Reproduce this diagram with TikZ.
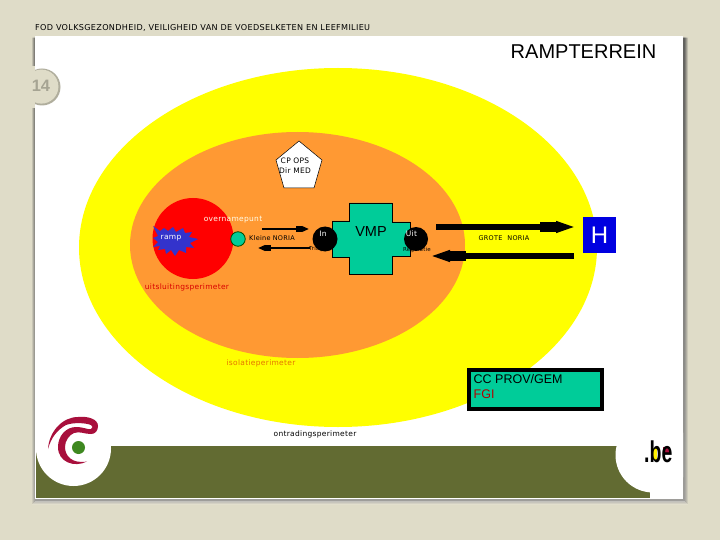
\documentclass[tikz,border=0pt]{standalone}
\usepackage{fontspec}
\setmainfont{Liberation Sans}
\newfontfamily\smallf[LetterSpace=4]{DejaVu Sans}
\usetikzlibrary{arrows.meta}
\definecolor{bgc}{HTML}{DFDCC8}
\definecolor{shade}{HTML}{9C9A8A}
\definecolor{olivec}{HTML}{626B32}
\definecolor{yel}{HTML}{FFFF00}
\definecolor{org}{HTML}{FF9933}
\definecolor{tealc}{HTML}{00CC99}
\definecolor{crim}{HTML}{A80F3C}
\definecolor{starblue}{HTML}{3333CC}
\tikzset{
  lab/.style={inner sep=0pt,font=\smallf\fontsize{7.5}{8}\selectfont},
  noria/.style={inner sep=0pt,font=\smallf\fontsize{6.5}{8}\selectfont},
  minilab/.style={inner sep=0pt,font=\smallf\fontsize{5.5}{6}\selectfont},
  thinarrow/.style={line width=2.6pt,-{Rectangle[length=6pt,width=5.5pt]Triangle[length=7pt,width=5.5pt]}},
  fatarrow/.style={line width=6pt,-{Rectangle[length=16pt,width=10.5pt]Triangle[length=20pt,width=10.5pt]}},
  blackdot/.style={circle,fill=black,inner sep=0pt},
}
\begin{document}
\begin{tikzpicture}[x=1pt,y=-1pt]
\useasboundingbox (0,0) rectangle (720,540);
\fill[bgc] (0,0) rectangle (720,540);
% shadow
\foreach \d/\o in {5/.10,4/.15,3/.2,2/.3}{
  \fill[shade,opacity=\o] (36-\d+1,38) rectangle (683+\d,499+\d);}
\fill[white] (35,36) rectangle (683,499);
% footer band
\begin{scope}
\clip (35,36) rectangle (683,499);
\fill[olivec] (36,446) rectangle (650,497.5);
\fill[white] (73.5,448.5) circle[radius=37.5];
\fill[white] (653,455) circle[radius=37.5];
\end{scope}
% page number tab
\fill[shade!70!bgc] (42,87) circle[radius=18.5];
\fill[bgc] (41.4,86.6) circle[radius=17];
\fill[bgc] (20,66) rectangle (35,108);
\node[inner sep=0pt,text=shade!85!bgc,font=\bfseries\fontsize{16.5}{18}\selectfont] (pageno) at (41,85.5) {14};
% perimeters
\fill[yel] (338,247.5) ellipse[x radius=259,y radius=179.5];
\fill[org] (297.5,245) ellipse[x radius=167.5,y radius=113];
\fill[red] (193,238.5) circle[radius=40.5];
% star
\fill[starblue] (153,226) -- (160,231) -- (164,228) -- (168,231) -- (173,227) -- (176,232) -- (183,228) -- (185,233) -- (192,232) -- (189,237) -- (198,239) -- (190,243) -- (194,248) -- (186,247) -- (186,253) -- (179,250) -- (175,256) -- (171,250) -- (166,254) -- (165,249) -- (158,250) -- (160,246) -- (153,247) -- (158,242) -- (153,238) -- (158,236) -- cycle;
\node[lab,text=white] (ramp) at (171,238) {ramp};
% pentagon
\draw[black,line width=.5pt,fill=white] (299,141) -- (322,160) -- (314,188) -- (284,188) -- (276,160) -- cycle;
\node[lab] (cpops) at (295,161) {CP OPS};
\node[lab] (dirmed) at (295,170.5) {Dir MED};
% overname
\node[lab,text=white!92!yellow] (overname) at (233,220) {overnamepunt};
\node[circle,draw=black!70!green,line width=.8pt,fill=tealc,minimum size=14.5pt,inner sep=0pt] (pt) at (238,239) {};
\node[noria] (kleine) at (272,238) {Kleine NORIA};
% VMP
\filldraw[fill=tealc,draw=black,line width=.6pt] (349,203) -- (392,203) -- (392,222) -- (410,222) -- (410,256) -- (392,256) -- (392,274) -- (349,274) -- (349,257) -- (332,257) -- (332,221) -- (349,221) -- cycle;
\node[inner sep=0pt,font=\fontsize{14.5}{16}\selectfont] (vmp) at (371,232) {VMP};
\node[blackdot,minimum size=25pt] (in) at (325,239) {};
\node[blackdot,minimum size=24pt] (uit) at (416,239) {};
\node[lab,text=white] (intxt) at (323,233.5) {In};
\node[lab,text=white] (uittxt) at (411.5,233.5) {Uit};
\node[minilab] (triage) at (318,249) {Triage};
\node[minilab] (regul) at (417,249.5) {Regulatie};
% H
\node[fill=blue!88!black,text=white,minimum width=33pt,minimum height=36pt,inner sep=0pt,font=\fontsize{24}{26}\selectfont] (H) at (599.5,235) {H};
\node[noria] (grote) at (504,238) {GROTE\hspace{5pt}NORIA};
% arrows
\coordinate (a1) at (262,229); \coordinate (a2) at (309,229);
\coordinate (b1) at (310,248); \coordinate (b2) at (258,248);
\coordinate (c1) at (436,227); \coordinate (c2) at (576,227);
\coordinate (d1) at (574,256); \coordinate (d2) at (430,256);
\draw[thinarrow] (a1) -- (a2);
\draw[thinarrow] (b1) -- (b2);
\draw[fatarrow] (c1) -- (c2);
\draw[fatarrow] (d1) -- (d2);
% perimeter labels
\node[lab,text=red!85!black] (uitsl) at (187,287) {uitsluitingsperimeter};
\node[lab,text=orange!90!black] (isol) at (261,363) {isolatieperimeter};
\node[lab] (ontr) at (315,434) {ontradingsperimeter};
% CC
\node[draw=black,line width=4pt,fill=tealc,minimum width=133pt,minimum height=39pt,inner sep=0pt] (cc) at (535.5,389.5) {};
\node[anchor=west,inner sep=0pt,font=\fontsize{12.5}{14}\selectfont] (cc1) at (473.5,379.5) {CC PROV/GEM};
\node[anchor=west,inner sep=0pt,text=red!70!black,font=\fontsize{12.5}{14}\selectfont] (cc2) at (473.5,394.5) {FGI};
% header
\node[anchor=west,inner sep=0pt,font=\smallf\fontsize{8.1}{9}\selectfont] (head) at (35,27.5) {FOD VOLKSGEZONDHEID, VEILIGHEID VAN DE VOEDSELKETEN EN LEEFMILIEU};
\node[anchor=east,inner sep=0pt,font=\fontsize{20}{22}\selectfont] (title) at (656.5,52) {RAMPTERREIN};
% federal logo
\fill[crim] (48,449) .. controls (49,432) and (62,417) .. (78,417) .. controls (88,416) and (98,419) .. (98,426) .. controls (98,431) and (95,434) .. (91,434) .. controls (84,434) and (80,431) .. (74,433) .. controls (69,435) and (65,441) .. (65,447) .. controls (65,456) and (72,464) .. (87,461.5) .. controls (74,468) and (58,462) .. (58,447) .. controls (58,436) and (66,427) .. (76,427) .. controls (84,427) and (88,430) .. (91,429) .. controls (93,428) and (93,426) .. (91,425) .. controls (86,423) and (74,422) .. (66,425) .. controls (57,430) and (51,438) .. (48,449) -- cycle;
\fill[olivec!70!green!90!black] (78.5,447.5) circle[radius=6.5];
% .be
\fill[yel!90!orange] (651,448) rectangle (657,460);
\fill[crim] (663,453) rectangle (670,447);
\node[inner sep=0pt,anchor=base west,font=\bfseries\fontsize{30}{32}\selectfont] (be) at (644,462) {\scalebox{.65}[1]{.be}};
\end{tikzpicture}
\end{document}
